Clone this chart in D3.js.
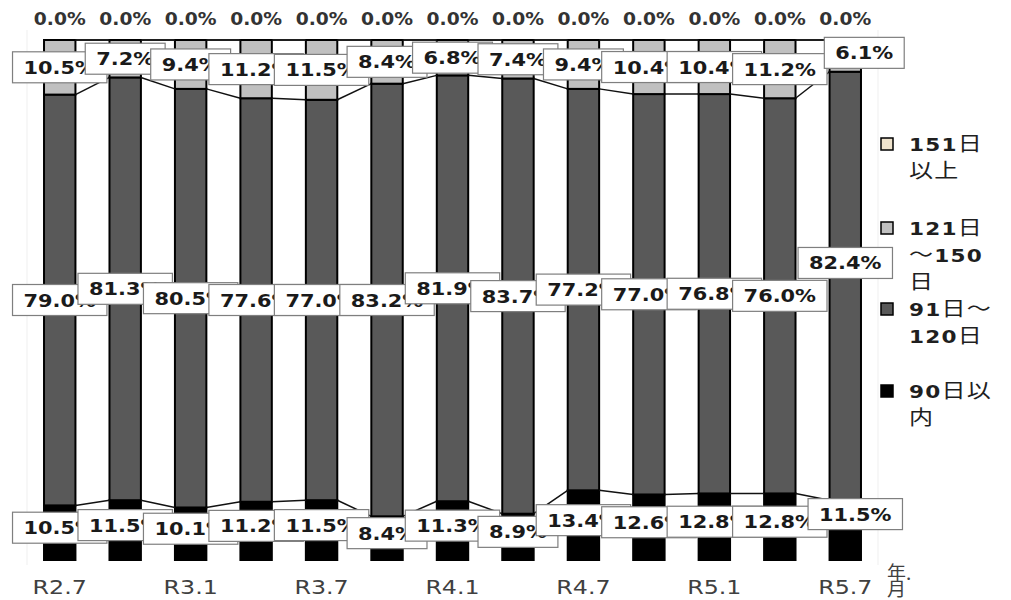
<!DOCTYPE html>
<html>
<head>
<meta charset="utf-8">
<title>D3.js</title>
</head>
<style>
    body { margin: 0; background: #fff; }
    .num { font-family: "DejaVu Sans", sans-serif; font-weight: bold; }
    .cjk { font-family: "Noto Sans CJK JP", sans-serif; font-weight: normal; }
</style>
<body>
<svg width="1011" height="600"></svg>
<script src="https://cdn.jsdelivr.net/npm/d3@7"></script>
<script>
// quarterly periods (only every other one is labelled on the axis)
var categories = ["R2.7","R2.10","R3.1","R3.4","R3.7","R3.10","R4.1","R4.4","R4.7","R4.10","R5.1","R5.4","R5.7"];
var within90  = [10.5, 11.5, 10.1, 11.2, 11.5, 8.4, 11.3, 8.9, 13.4, 12.6, 12.8, 12.8, 11.5];
var d91to120  = [79.0, 81.3, 80.5, 77.6, 77.0, 83.2, 81.9, 83.7, 77.2, 77.0, 76.8, 76.0, 82.4];
var d121to150 = [10.5, 7.2, 9.4, 11.2, 11.5, 8.4, 6.8, 7.4, 9.4, 10.4, 10.4, 11.2, 6.1];
var over151   = [0.0, 0.0, 0.0, 0.0, 0.0, 0.0, 0.0, 0.0, 0.0, 0.0, 0.0, 0.0, 0.0];
var seriesKeys = ["within90", "d91to120", "d121to150", "over151"];
var legendLines = {
    over151: ["151日", "以上"],
    d121to150: ["121日", "～150", "日"],
    d91to120: ["91日～", "120日"],
    within90: ["90日以", "内"]
};

var colors = { within90: "#000000", d91to120: "#595959", d121to150: "#c0c0c0", over151: "#efe3cc" };

var svg = d3.select("svg"),
    width = +svg.attr("width"),
    height = +svg.attr("height");

var rows = categories.map(function(c, i) {
    return { cat: c, within90: within90[i], d91to120: d91to120[i], d121to150: d121to150[i], over151: over151[i] };
});
var stacked = d3.stack().keys(seriesKeys)(rows);

var x = d3.scaleBand()
    .domain(categories)
    .range([27, 878])
    .paddingInner(0.52)
    .paddingOuter(0.26);

var y = d3.scaleLinear()
    .domain([0, 100])
    .range([560, 40]);

var bw = x.bandwidth();

// faint plot-area edges
svg.append("g").selectAll("line")
    .data(x.range())
  .enter().append("line")
    .attr("x1", d => d).attr("x2", d => d)
    .attr("y1", 30).attr("y2", 565)
    .attr("stroke", "#efefef");

// bars
svg.append("g").selectAll("g")
    .data(stacked)
  .enter().append("g")
    .attr("fill", d => colors[d.key])
  .selectAll("rect")
    .data(d => d)
  .enter().append("rect")
    .attr("x", d => x(d.data.cat))
    .attr("y", d => y(d[1]))
    .attr("width", bw)
    .attr("height", d => y(d[0]) - y(d[1]))
    .attr("stroke", "#000")
    .attr("stroke-width", 2);

// series lines between neighbouring bars
var sl = svg.append("g").attr("stroke", "#111").attr("stroke-width", 1.5);
stacked.forEach(function(s) {
    for (var i = 0; i < s.length - 1; i++) {
        sl.append("line")
            .attr("x1", x(categories[i]) + bw)
            .attr("y1", y(s[i][1]))
            .attr("x2", x(categories[i + 1]))
            .attr("y2", y(s[i + 1][1]));
    }
});

// labels were nudged by hand on the last bar in the original
var lastNudge = { within90: [10, -11], d91to120: [0, -23], d121to150: [19, -3] };
var sx = 1.16;

function boxLabel(g, cx, cy, txt) {
    var lg = g.append("g").attr("transform", "translate(" + cx + "," + cy + ")");
    var r = lg.append("rect").attr("fill", "#fff").attr("stroke", "#7f7f7f").attr("stroke-width", 1.2);
    var t = lg.append("text")
        .attr("class", "num")
        .attr("font-size", 18)
        .attr("fill", "#1a1a1a")
        .attr("text-anchor", "middle")
        .attr("transform", "translate(0,6.5) scale(" + sx + ",1)")
        .text(txt);
    var w = t.node().getComputedTextLength() * sx + 22;
    r.attr("x", -w / 2).attr("y", -15.5).attr("width", w).attr("height", 31);
}

var labels = svg.append("g");
stacked.slice(0, 3).forEach(function(s) {
    s.forEach(function(d, i) {
        var cx = x(d.data.cat) + bw / 2,
            cy = (y(d[0]) + y(d[1])) / 2;
        if (s.key == "within90") cy -= 5;
        if (i == s.length - 1) { cx += lastNudge[s.key][0]; cy += lastNudge[s.key][1]; }
        boxLabel(labels, cx, cy, d3.format(".1f")(d.data[s.key]) + "%");
    });
});

// zero-valued top series
svg.append("g").selectAll("text")
    .data(stacked[3])
  .enter().append("text")
    .attr("class", "num")
    .attr("font-size", 17)
    .attr("fill", "#333")
    .attr("text-anchor", "middle")
    .attr("transform", d => "translate(" + (x(d.data.cat) + bw / 2) + ",25) scale(1.1,1)")
    .text(d => d3.format(".1f")(d.data.over151) + "%");

// x axis labels, every other category
svg.append("g").selectAll("text")
    .data(categories.filter((c, i) => i % 2 == 0))
  .enter().append("text")
    .attr("font-family", "DejaVu Sans, sans-serif")
    .attr("font-size", 19)
    .attr("fill", "#404040")
    .attr("text-anchor", "middle")
    .attr("transform", d => "translate(" + (x(d) + bw / 2) + ",594) scale(1.25,1)")
    .text(d => d);

var unit = svg.append("text").attr("class", "cjk").attr("font-size", 19).attr("fill", "#404040");
unit.append("tspan").attr("x", 887).attr("y", 580).text("年.");
unit.append("tspan").attr("x", 887).attr("y", 596).text("月");

// legend
function mixedText(t, str) {
    str.match(/[\x00-\x7f]+|[^\x00-\x7f]+/g).forEach(function(run) {
        var ascii = /^[\x00-\x7f]+$/.test(run);
        t.append("tspan")
            .attr("class", ascii ? "num" : "cjk")
            .attr("font-size", ascii ? 18 : 20)
            .text(run);
    });
}
var legendTop = { over151: 138, d121to150: 222, d91to120: 303, within90: 385 };
var legend = svg.append("g");
["over151", "d121to150", "d91to120", "within90"].forEach(function(k) {
    var top = legendTop[k];
    legend.append("rect")
        .attr("x", 881).attr("y", top)
        .attr("width", 12).attr("height", 12)
        .attr("fill", colors[k])
        .attr("stroke", "#000").attr("stroke-width", 1.5);
    legendLines[k].forEach(function(line, j) {
        var t = legend.append("text")
            .attr("fill", "#1f1f1f")
            .attr("letter-spacing", 1)
            .attr("transform", "translate(909," + (top + 13 + j * 27) + ") scale(1.2,1)");
        mixedText(t, line);
    });
});
</script>
</body>
</html>
